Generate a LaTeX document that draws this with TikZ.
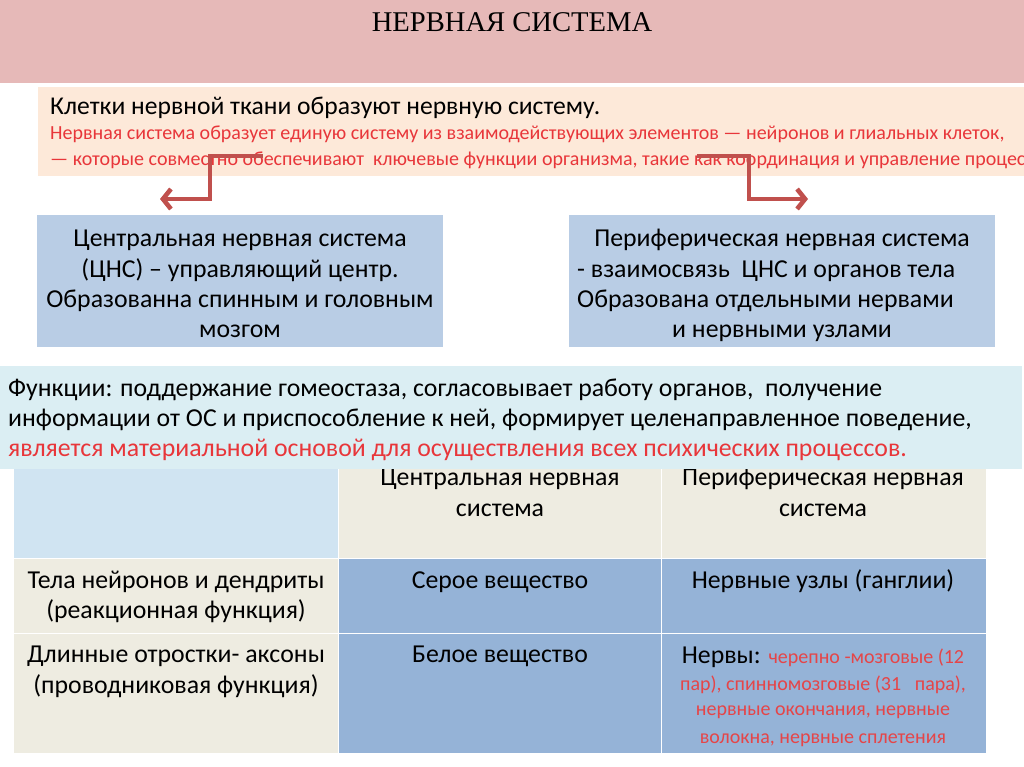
\documentclass[tikz,border=0pt]{standalone}
\usepackage{fontspec}
\setmainfont{Carlito}
\newfontfamily\titlefont{Liberation Serif}
\usetikzlibrary{arrows.meta}
\definecolor{titlepink}{HTML}{E6B9B8}
\definecolor{peach}{HTML}{FDE9D9}
\definecolor{boxblue}{HTML}{B9CDE5}
\definecolor{bandblue}{HTML}{DBEEF3}
\definecolor{hdrblue}{HTML}{D0E4F2}
\definecolor{beige}{HTML}{EEECE1}
\definecolor{cellblue}{HTML}{95B3D7}
\definecolor{arrowred}{HTML}{C0504D}
\definecolor{textred}{HTML}{E8363A}
\definecolor{cellred}{HTML}{E54548}
\tikzset{
  txt/.style={inner sep=0pt, anchor=base},
  ltxt/.style={inner sep=0pt, anchor=base west},
  big/.style={font=\fontsize{25.8}{30}\selectfont},
  small/.style={font=\fontsize{20}{24}\selectfont, text=textred},
  tiny/.style={font=\fontsize{20}{24}\selectfont, text=cellred},
  link/.style={draw=arrowred, line width=4.6pt, -{Straight Barb[length=8pt,width=20pt,line width=4.6pt]}},
  cell/.style={draw=white, line width=1pt}
}
\begin{document}
\begin{tikzpicture}[x=1pt,y=-1pt]
\useasboundingbox (0,0) rectangle (1024,767);
\fill[white] (0,0) rectangle (1024,767);
% title band
\fill[titlepink] (0,0) rectangle (1024,83);
\node[txt, font=\titlefont\fontsize{28.6}{32}\selectfont] (title) at (512,32) {НЕРВНАЯ СИСТЕМА};
% peach box
\fill[peach] (38,87) rectangle (1024,176);
\node[ltxt, font=\fontsize{25.6}{30}\selectfont] (l1) at (50,115) {Клетки нервной ткани образуют нервную систему.};
\node[ltxt, small] (l2) at (50,140) {Нервная система образует единую систему из взаимодействующих элементов — нейронов и глиальных клеток,};
\node[ltxt, small] (l3) at (50,166) {— которые совместно обеспечивают\ \ ключевые функции организма, такие как координация и управление процес};
% arrows
\coordinate (a1s) at (263,156);
\coordinate (a1m) at (210,199);
\coordinate (a1e) at (160,199);
\coordinate (a2s) at (697,156);
\coordinate (a2m) at (749,199);
\coordinate (a2e) at (808,199);
\draw[link] (a1s) -| (a1m) -- (a1e);
\draw[link] (a2s) -| (a2m) -- (a2e);
% blue boxes
\fill[boxblue] (37,215) rectangle (443,347);
\fill[boxblue] (569,215) rectangle (995,347);
\node[txt, big] (c1) at (240,247) {Центральная нервная система};
\node[txt, big] (c2) at (240,277) {(ЦНС) – управляющий центр.};
\node[txt, big] (c3) at (240,307) {Образованна спинным и головным};
\node[txt, big] (c4) at (240,337) {мозгом};
\node[txt, big] (p1) at (782,247) {Периферическая нервная система};
\node[ltxt, big] (p2) at (577,277) {- взаимосвязь\ \ ЦНС и органов тела};
\node[ltxt, big] (p3) at (577,307) {Образована отдельными нервами};
\node[txt, big] (p4) at (782,337) {и нервными узлами};
% table
\fill[hdrblue] (14,462) rectangle (338,558);
\fill[beige] (338,462) rectangle (986,558);
\fill[beige] (14,558) rectangle (338,753);
\fill[cellblue] (338,558) rectangle (986,753);
\draw[cell] (338,462) -- (338,753);
\draw[cell] (661,462) -- (661,753);
\draw[cell] (14,558) -- (986,558);
\draw[cell] (14,633) -- (986,633);
\node[txt, big] (h1) at (500,485) {Центральная нервная};
\node[txt, big] (h1b) at (500,516) {система};
\node[txt, big] (h2) at (823,485) {Периферическая нервная};
\node[txt, big] (h2b) at (823,516) {система};
\node[txt, big] (r1) at (176,588) {Тела нейронов и дендриты};
\node[txt, big] (r1b) at (176,618) {(реакционная функция)};
\node[txt, big] (r1c) at (500,588) {Серое вещество};
\node[txt, big] (r1d) at (823,588) {Нервные узлы (ганглии)};
\node[txt, big] (r2) at (176,662) {Длинные отростки- аксоны};
\node[txt, big] (r2b) at (176,693) {(проводниковая функция)};
\node[txt, big] (r2c) at (500,662) {Белое вещество};
\node[txt] (n1) at (823,663) {{\fontsize{25.8}{30}\selectfont Нервы: }{\fontsize{20}{24}\selectfont\color{cellred}черепно -мозговые (12}};
\node[txt, tiny] (n2) at (823,690) {пар), спинномозговые (31\ \ \ пара),};
\node[txt, tiny] (n3) at (823,715) {нервные окончания, нервные};
\node[txt, tiny] (n4) at (823,743) {волокна, нервные сплетения};
% functions band (over table top)
\fill[bandblue] (0,366) rectangle (1022,469);
\node[ltxt, big] (f1) at (8,396) {Функции: поддержание гомеостаза, согласовывает работу органов,\ \ получение};
\node[ltxt, big] (f2) at (8,426) {информации от ОС и приспособление к ней, формирует целенаправленное поведение,};
\node[ltxt, big, text=textred] (f3) at (8,456) {является материальной основой для осуществления всех психических процессов.};
\end{tikzpicture}
\end{document}
